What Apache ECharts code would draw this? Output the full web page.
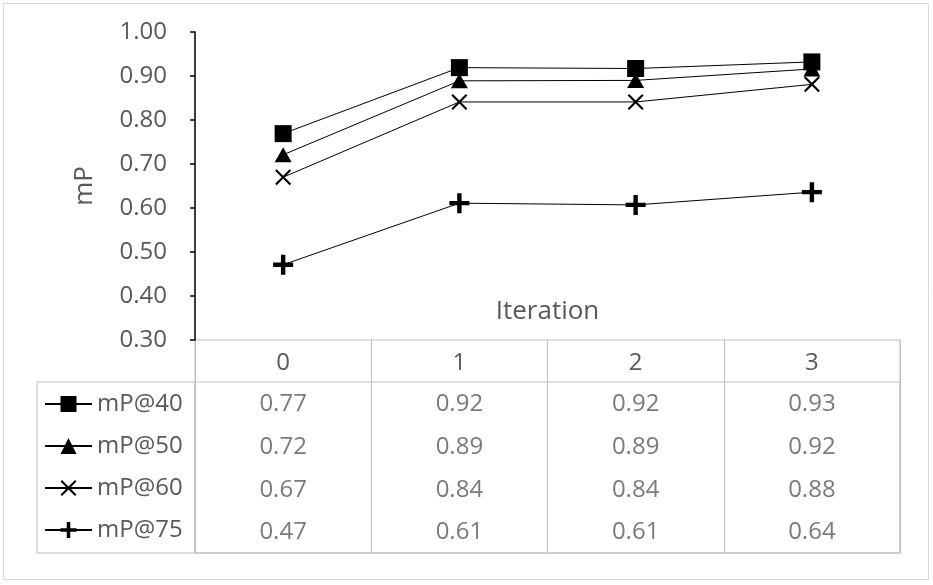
<!DOCTYPE html>
<html>
<head>
<meta charset="utf-8">
<script src="https://cdn.jsdelivr.net/npm/echarts@6/dist/echarts.min.js"></script>
<style>
html,body{margin:0;padding:0;background:#fff;}
#chart{width:933px;height:585px;}
</style>
</head>
<body>
<div id="chart"></div>
<script>
// ---- data ----
const categories = ['0', '1', '2', '3'];
const seriesNames = ['mP@40', 'mP@50', 'mP@60', 'mP@75'];
const mP40 = [0.769, 0.919, 0.917, 0.932];
const mP50 = [0.721, 0.889, 0.890, 0.916];
const mP60 = [0.670, 0.841, 0.841, 0.881];
const mP75 = [0.471, 0.611, 0.607, 0.636];
const yTicks = [0.30, 0.40, 0.50, 0.60, 0.70, 0.80, 0.90, 1.00];
const yAxisTitle = 'mP';
const xAxisTitle = 'Iteration';

const allValues = [mP40, mP50, mP60, mP75];
const FONT = 'Open Sans';
const TEXT = '#595959';
const GRIDLINE = '#bfbfbf';

const symbols = [
  'rect',
  'path://M8,0L16,14H0Z',
  'path://M0,1.5L1.5,0L8,6.5L14.5,0L16,1.5L9.5,8L16,14.5L14.5,16L8,9.5L1.5,16L0,14.5L6.5,8Z',
  'path://M3.9,0H6.1V3.9H10V6.1H6.1V10H3.9V6.1H0V3.9H3.9Z'
];
const symbolSizes = [[17, 17], [17, 15], [16, 16], [20, 20]];
const zs = [6, 5, 4, 3];

const lineSeries = seriesNames.map((name, i) => ({
  name: name,
  type: 'line',
  xAxisIndex: 0,
  yAxisIndex: 0,
  data: allValues[i],
  symbol: symbols[i],
  symbolSize: symbolSizes[i],
  showAllSymbol: true,
  z: zs[i],
  itemStyle: { color: '#000', opacity: 1 },
  lineStyle: { color: '#000', width: 1 },
  emphasis: { disabled: true }
}));

// table cells
const cellData = [];
seriesNames.forEach((name, r) => {
  categories.forEach((c, i) => {
    cellData.push([c, name, allValues[r][i]]);
  });
});
const tableSeries = {
  type: 'scatter',
  xAxisIndex: 2,
  yAxisIndex: 2,
  data: cellData,
  symbol: 'rect',
  symbolSize: 1,
  itemStyle: { color: 'rgba(0,0,0,0)' },
  silent: true,
  label: {
    show: true,
    position: 'inside',
    offset: [0, 1],
    formatter: p => p.value[2].toFixed(2),
    fontFamily: FONT,
    fontSize: 24,
    color: TEXT
  }
};

// one legend per table row
const legends = seriesNames.map((name, i) => ({
  data: [name],
  orient: 'vertical',
  left: 44,
  top: 392 + i * 42,
  padding: 0,
  itemWidth: 47,
  itemHeight: 20,
  selectedMode: false,
  textStyle: { fontFamily: FONT, fontSize: 24, color: TEXT }
}));

const chart = echarts.init(document.getElementById('chart'), null, { renderer: 'canvas' });
chart.setOption({
  animation: false,
  backgroundColor: '#fff',
  graphic: [{
    type: 'rect',
    shape: { x: 3.5, y: 3.5, width: 925, height: 576 },
    style: { fill: 'none', stroke: '#d9d9d9', lineWidth: 1 },
    silent: true,
    z: -1
  }],
  legend: legends,
  grid: [
    { left: 195, top: 32, width: 705, height: 308, show: false },
    { left: 195, top: 340, width: 705, height: 213, show: true, borderColor: GRIDLINE, borderWidth: 1, backgroundColor: 'transparent' },
    { left: 195, top: 382, width: 705, height: 171, show: true, borderColor: GRIDLINE, borderWidth: 1, backgroundColor: 'transparent' },
    { left: 37, top: 382, width: 158, height: 171, show: true, borderColor: GRIDLINE, borderWidth: 1, backgroundColor: 'transparent' }
  ],
  xAxis: [
    {
      gridIndex: 0, type: 'category', data: categories, boundaryGap: true,
      axisLine: { show: false }, axisTick: { show: false },
      axisLabel: { show: true, margin: 23, verticalAlign: 'middle', fontFamily: FONT, fontSize: 24, color: TEXT, interval: 0 },
      name: xAxisTitle, nameLocation: 'middle', nameGap: -28,
      nameTextStyle: { fontFamily: FONT, fontSize: 26, color: TEXT, verticalAlign: 'middle' }
    },
    {
      gridIndex: 1, type: 'category', data: categories, boundaryGap: true,
      axisLine: { show: false }, axisTick: { show: false }, axisLabel: { show: false },
      splitLine: { show: true, interval: 0, lineStyle: { color: GRIDLINE, width: 1 } }
    },
    {
      gridIndex: 2, type: 'category', data: categories, boundaryGap: true,
      axisLine: { show: false }, axisTick: { show: false }, axisLabel: { show: false }, splitLine: { show: false }
    },
    {
      gridIndex: 3, type: 'value', show: false
    }
  ],
  yAxis: [
    {
      gridIndex: 0, type: 'value', min: 0.3, max: 1.0, interval: 0.1,
      axisLine: { show: true, lineStyle: { color: '#000', width: 1.5 } },
      axisTick: { show: true, length: 5, lineStyle: { color: '#000', width: 1.5 } },
      splitLine: { show: false },
      axisLabel: {
        margin: 28, fontFamily: FONT, fontSize: 24, color: TEXT,
        formatter: v => {
          const t = yTicks.find(x => Math.abs(x - v) < 1e-6);
          return (t !== undefined ? t : v).toFixed(2);
        }
      },
      name: yAxisTitle, nameLocation: 'middle', nameGap: 97, nameRotate: 90,
      nameTextStyle: { fontFamily: FONT, fontSize: 26, color: TEXT }
    },
    { gridIndex: 1, type: 'value', show: false },
    {
      gridIndex: 2, type: 'category', data: seriesNames, inverse: true, boundaryGap: true,
      axisLine: { show: false }, axisTick: { show: false }, axisLabel: { show: false }, splitLine: { show: false }
    },
    { gridIndex: 3, type: 'value', show: false }
  ],
  series: lineSeries.concat([tableSeries])
});
</script>
</body>
</html>
